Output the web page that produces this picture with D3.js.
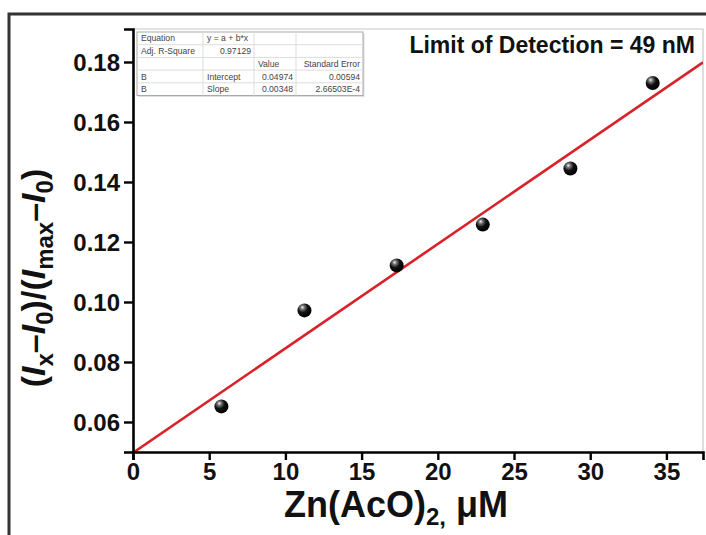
<!DOCTYPE html>
<html>
<head>
<meta charset="utf-8">
<script src="https://cdn.jsdelivr.net/npm/d3@7"></script>
<style>
  body { margin: 0; background: #fff; }
  svg { display: block; font-family: 'Liberation Sans', Arial, sans-serif; }
</style>
</head>
<body>
<svg id="chart" width="706" height="535"></svg>
<script>
// measured points
const concentrations = [5.8, 11.25, 17.3, 22.95, 28.7, 34.1]
const ratios = [0.0652, 0.0972, 0.1122, 0.1258, 0.1445, 0.1730]

// linear fit y = a + b*x
const intercept = 0.04974
const slope = 0.00348

const xTicks = [0, 5, 10, 15, 20, 25, 30, 35]
const yTicks = [0.06, 0.08, 0.10, 0.12, 0.14, 0.16, 0.18]

const fitTable = [
  ['Equation', 'y = a + b*x', '', ''],
  ['Adj. R-Square', '0.97129', '', ''],
  ['', '', 'Value', 'Standard Error'],
  ['B', 'Intercept', '0.04974', '0.00594'],
  ['B', 'Slope', '0.00348', '2.66503E-4']
]

const detectionLabel = 'Limit of Detection = 49 nM'

const plot = { left: 133, right: 703, top: 29, bottom: 452 }

const svg = d3.select('#chart')

const xScale = d3.scaleLinear().domain([0, 37.4]).range([plot.left, plot.right])
const yScale = d3.scaleLinear().domain([0.05, 0.191]).range([plot.bottom, plot.top])

/**
 * Outer border and light frame of the plot area
 */
function drawFrames () {
  svg.append('rect')
    .attr('x', 9).attr('y', 14)
    .attr('width', 760).attr('height', 600)
    .attr('fill', 'none')
    .attr('stroke', '#333')
    .attr('stroke-width', 3)

  svg.append('path')
    .attr('d', 'M' + plot.left + ',' + plot.top + 'H' + plot.right + 'V' + plot.bottom)
    .attr('fill', 'none')
    .attr('stroke', '#c8c8c8')
    .attr('stroke-width', 1.2)
}

/**
 * Draw both axes with bold tick labels
 */
function drawAxes () {
  var xAxis = d3.axisBottom(xScale).tickValues(xTicks).tickSize(8).tickPadding(3).tickFormat(d3.format('d'))
  var yAxis = d3.axisLeft(yScale).tickValues(yTicks).tickSize(9).tickPadding(4).tickFormat(d3.format('.2f'))

  var gx = svg.append('g')
    .attr('transform', 'translate(0,' + plot.bottom + ')')
    .call(xAxis)
  var gy = svg.append('g')
    .attr('transform', 'translate(' + plot.left + ',0)')
    .call(yAxis)

  ;[gx, gy].forEach(function (g) {
    g.select('.domain').attr('stroke', '#000').attr('stroke-width', 2.6)
    g.selectAll('.tick line').attr('stroke', '#000').attr('stroke-width', 2.4)
    g.selectAll('.tick text')
      .attr('fill', '#111')
      .attr('font-family', "'Liberation Sans', Arial, sans-serif")
      .attr('font-weight', 'bold')
      .attr('font-size', 24)
  })
  gy.selectAll('.tick text').attr('dy', '0.36em')
}

/**
 * Axis titles, with sub-scripts done by tspans
 */
function drawLabels () {
  var xl = svg.append('text')
    .attr('x', 396).attr('y', 517)
    .attr('text-anchor', 'middle')
    .attr('font-weight', 'bold')
    .attr('font-size', 36)
    .attr('fill', '#111')
  xl.append('tspan').text('Zn(AcO)')
  xl.append('tspan').attr('font-size', 24).attr('dy', 8).text('2,')
  xl.append('tspan').attr('dy', -8).text(' μM')

  var yl = svg.append('text')
    .attr('transform', 'translate(45,278) rotate(-90)')
    .attr('text-anchor', 'middle')
    .attr('font-weight', 'bold')
    .attr('font-size', 34)
    .attr('fill', '#111')
  var parts = [
    ['(', 0], ['I', 'i'], ['x', 's'], ['\u2013', 0], ['I', 'i'], ['0', 's'], [')/(', 0],
    ['I', 'i'], ['max', 's'], ['\u2013', 0], ['I', 'i'], ['0', 's'], [')', 0]
  ]
  var down = false
  parts.forEach(function (p) {
    var t = yl.append('tspan').text(p[0])
    if (p[1] === 'i') t.attr('font-style', 'italic')
    if (p[1] === 's') {
      t.attr('font-size', 24).attr('dy', down ? 0 : 8)
      down = true
    } else if (down) {
      t.attr('dy', -8)
      down = false
    }
  })

  svg.append('text')
    .attr('x', 695).attr('y', 53)
    .attr('text-anchor', 'end')
    .attr('font-weight', 'bold')
    .attr('font-size', 23)
    .attr('fill', '#111')
    .text(detectionLabel)
}

/**
 * Fit result table in the upper left corner
 */
function drawTable () {
  var colEdges = [137, 203, 254, 296, 363]
  var rowH = 12.7
  var top = 32
  var g = svg.append('g')

  g.append('rect')
    .attr('x', colEdges[0] + 1.5).attr('y', top + 1.5)
    .attr('width', colEdges[4] - colEdges[0]).attr('height', rowH * fitTable.length)
    .attr('fill', '#ddd')
  g.append('rect')
    .attr('x', colEdges[0]).attr('y', top)
    .attr('width', colEdges[4] - colEdges[0]).attr('height', rowH * fitTable.length)
    .attr('fill', '#fff')
    .attr('stroke', '#aaa')

  fitTable.forEach(function (row, i) {
    if (i > 0) {
      g.append('line')
        .attr('x1', colEdges[0]).attr('x2', colEdges[4])
        .attr('y1', top + i * rowH).attr('y2', top + i * rowH)
        .attr('stroke', '#ddd')
    }
    row.forEach(function (cell, j) {
      var rightAlign = (j === 1 && i === 1) || (j >= 2 && cell !== 'Value')
      g.append('text')
        .attr('x', rightAlign ? colEdges[j + 1] - 3 : colEdges[j] + 4)
        .attr('y', top + i * rowH + 9.4)
        .attr('text-anchor', rightAlign ? 'end' : 'start')
        .attr('font-size', 8.6)
        .attr('fill', '#444')
        .text(cell)
    })
  })
  colEdges.slice(1, 4).forEach(function (x) {
    g.append('line')
      .attr('x1', x).attr('x2', x)
      .attr('y1', top).attr('y2', top + rowH * fitTable.length)
      .attr('stroke', '#ddd')
  })
}

/**
 * Fit line and sphere markers
 */
function drawData () {
  svg.append('clipPath').attr('id', 'plot-clip')
    .append('rect')
    .attr('x', plot.left).attr('y', plot.top)
    .attr('width', plot.right - plot.left).attr('height', plot.bottom - plot.top)

  var xs = xScale.domain()
  svg.append('line')
    .attr('clip-path', 'url(#plot-clip)')
    .attr('x1', xScale(xs[0])).attr('y1', yScale(intercept + slope * xs[0]))
    .attr('x2', xScale(xs[1])).attr('y2', yScale(intercept + slope * xs[1]))
    .attr('stroke', '#d8232a')
    .attr('stroke-width', 2.6)

  var grad = svg.append('defs').append('radialGradient')
    .attr('id', 'ball')
    .attr('cx', '38%').attr('cy', '32%').attr('r', '65%')
    .attr('fx', '35%').attr('fy', '28%')
  grad.append('stop').attr('offset', '0%').attr('stop-color', '#f4f4f4')
  grad.append('stop').attr('offset', '22%').attr('stop-color', '#777')
  grad.append('stop').attr('offset', '55%').attr('stop-color', '#111')
  grad.append('stop').attr('offset', '100%').attr('stop-color', '#000')

  svg.append('g').selectAll('circle')
    .data(concentrations)
    .join('circle')
    .attr('cx', function (d) { return xScale(d) })
    .attr('cy', function (d, i) { return yScale(ratios[i]) })
    .attr('r', 7)
    .attr('fill', 'url(#ball)')
}

drawFrames()
drawTable()
drawData()
drawAxes()
drawLabels()
</script>
</body>
</html>
